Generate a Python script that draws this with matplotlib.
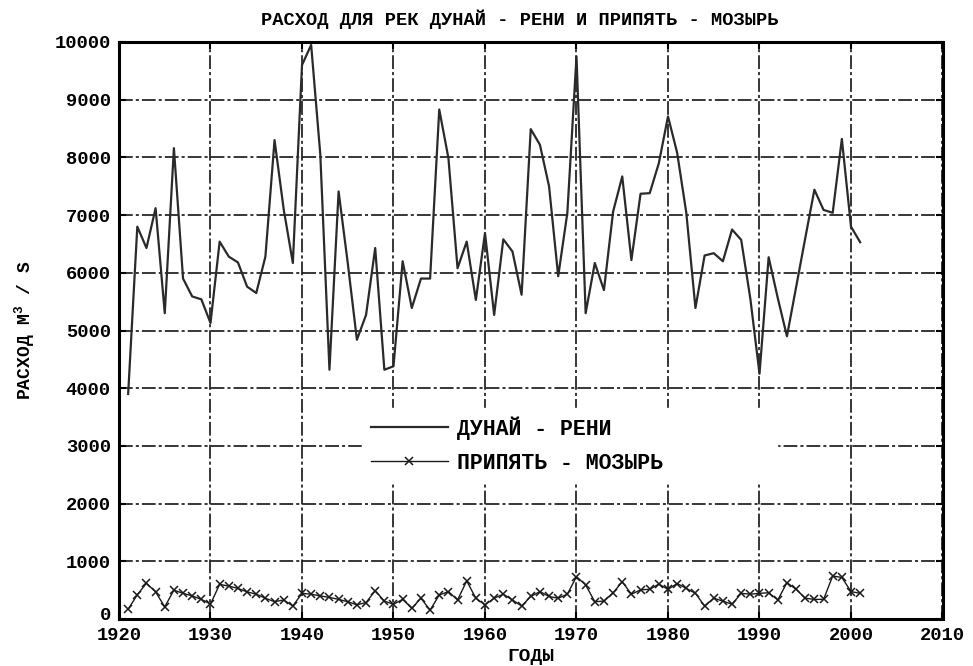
import numpy as np
import matplotlib
matplotlib.use("Agg")
import matplotlib.pyplot as plt
from matplotlib.transforms import ScaledTranslation

# Расход воды, м3/с
years = np.arange(1921, 2002)

danube = [3900, 6800, 6430, 7120, 5300, 8160, 5900, 5590, 5540, 5130,
          6540, 6280, 6180, 5760, 5650, 6280, 8300, 7100, 6170, 9600,
          9950, 8050, 4320, 7410, 6170, 4840, 5270, 6430, 4320, 4380,
          6200, 5390, 5900, 5900, 8830, 7990, 6080, 6540, 5530, 6690,
          5270, 6580, 6370, 5620, 8490, 8220, 7500, 5940, 7040, 9750,
          5300, 6170, 5700, 7060, 7670, 6220, 7370, 7380, 7900, 8710,
          8080, 7040, 5390, 6300, 6340, 6200, 6750, 6570, 5550, 4250,
          6270, 5560, 4900, 5750, 6600, 7440, 7090, 7040, 8320, 6800,
          6530]

pripyat = [170, 420, 620, 470, 210, 500, 445, 400, 340, 260,
           600, 570, 530, 470, 430, 360, 300, 330, 225, 445,
           430, 400, 375, 340, 300, 245, 285, 490, 310, 255,
           340, 185, 360, 155, 415, 475, 330, 660, 360, 245,
           360, 430, 330, 225, 390, 475, 390, 360, 430, 735,
           590, 300, 310, 455, 645, 430, 505, 515, 605, 515,
           615, 530, 445, 225, 360, 310, 255, 445, 430, 445,
           455, 330, 630, 515, 360, 340, 340, 745, 720, 475,
           445]

x_ticks = np.arange(1920, 2011, 10)
y_ticks = np.arange(0, 10001, 1000)

title = "РАСХОД ДЛЯ РЕК ДУНАЙ - РЕНИ И ПРИПЯТЬ - МОЗЫРЬ"
label_danube = "ДУНАЙ - РЕНИ"
label_pripyat = "ПРИПЯТЬ - МОЗЫРЬ"

plt.rcParams['font.family'] = ['Liberation Mono', 'DejaVu Sans Mono']
plt.rcParams['font.weight'] = 'bold'
plt.rcParams['mathtext.fontset'] = 'custom'
plt.rcParams['mathtext.rm'] = 'Liberation Mono:bold'

fig = plt.figure(figsize=(9.73, 6.66), dpi=100)
ax = fig.add_axes([119 / 973, 1 - 619 / 666, 823.5 / 973, 577 / 666])

ax.plot(years, danube, color='#2a2a2a', lw=1.6, label=label_danube, zorder=3)
ax.plot(years, pripyat, color='#1a1a1a', lw=1.0, marker='x', ms=5.5, mew=1.1,
        label=label_pripyat, zorder=3)

ax.set_xlim(1920, 2010)
ax.set_ylim(0, 10000)
ax.set_xticks(x_ticks)
ax.set_yticks(y_ticks)

ax.grid(True, color='black', lw=1.1, linestyle=(0, (9, 2, 2, 2)), zorder=1)
ax.tick_params(direction='in', length=5, width=1.5, top=True, right=True,
               labelsize=13.5, colors='black')
ax.tick_params(axis='y', pad=6)
ax.tick_params(axis='x', pad=6)
for s in ax.spines.values():
    s.set_linewidth(2.2)

# приподнять метку "0", чтобы не наезжала на "1920"
zero_lbl = ax.yaxis.get_major_ticks()[0].label1
zero_lbl.set_transform(zero_lbl.get_transform()
                       + ScaledTranslation(0, 4 / 72, fig.dpi_scale_trans))

fig.text(520 / 973, 1 - 19 / 666, title, ha='center', va='center',
         fontsize=13.5, fontweight='bold')
ax.set_ylabel("РАСХОД М$^3$ / S", fontsize=13, fontweight='bold')
ax.yaxis.set_label_coords(-0.1, 0.5)
ax.set_xlabel("ГОДЫ", fontsize=14, fontweight='bold')
ax.xaxis.set_label_coords(0.5, -0.05)

leg = ax.legend(loc='center', bbox_to_anchor=(0.295, 0.232, 0.504, 0.139),
                mode='expand', borderaxespad=0, frameon=True, fancybox=False,
                handlelength=3.6, handletextpad=0.42, labelspacing=0.6,
                borderpad=0.4, fontsize=15.5)
leg.get_frame().set_facecolor('white')
leg.get_frame().set_edgecolor('white')
leg.get_frame().set_alpha(1.0)

fig.savefig("out.png", dpi=100)
